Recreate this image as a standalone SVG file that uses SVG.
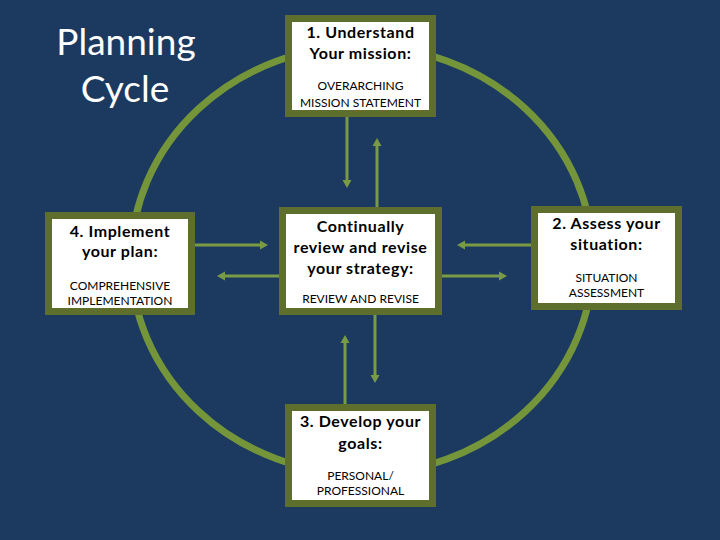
<svg xmlns="http://www.w3.org/2000/svg" width="720" height="540" viewBox="0 0 720 540">
<defs>
<style>
.box{fill:#ffffff;stroke:#5e6e2c;stroke-width:7}
.ring{fill:none;stroke:#74953a;stroke-width:7}
.arr{fill:none;stroke:#7a9b45;stroke-width:3}
.t{font-family:Lato,"Open Sans","Liberation Sans",sans-serif;font-weight:bold;font-size:16px;letter-spacing:0.6px;fill:#000;text-anchor:middle}
.s{font-family:Lato,"Open Sans","Liberation Sans",sans-serif;font-size:12px;fill:#000;text-anchor:middle}
.title{font-family:Lato,"Open Sans","Liberation Sans",sans-serif;font-size:37px;fill:#ffffff;text-anchor:middle}
</style>
<marker id="ah" viewBox="0 -5 8 10" markerWidth="8" markerHeight="10" refX="0" refY="0" orient="auto" markerUnits="userSpaceOnUse">
<path d="M0,-4.5 L8,0 L0,4.5 Z" fill="#7a9b45"/>
</marker>
</defs>
<rect width="720" height="540" fill="#1c3a60"/>
<g id="title">
<text class="title" x="126" y="55">Planning</text>
<text class="title" x="125" y="102">Cycle</text>
</g>
<g id="cycle-ring">
<ellipse class="ring" cx="362" cy="260" rx="231" ry="214"/>
</g>
<g id="connectors">
<path class="arr" d="M347,117 V180" marker-end="url(#ah)"/>
<path class="arr" d="M377,207 V146" marker-end="url(#ah)"/>
<path class="arr" d="M195,245 H260" marker-end="url(#ah)"/>
<path class="arr" d="M531,245 H465" marker-end="url(#ah)"/>
<path class="arr" d="M279,276 H225" marker-end="url(#ah)"/>
<path class="arr" d="M442,276 H499" marker-end="url(#ah)"/>
<path class="arr" d="M375,315 V375" marker-end="url(#ah)"/>
<path class="arr" d="M345,404 V343" marker-end="url(#ah)"/>
</g>
<g id="node-1">
<rect class="box" x="288.5" y="18.5" width="144" height="95"/>
<text class="t" x="360.5" y="37.5">1. Understand</text>
<text class="t" x="360.5" y="59">Your mission:</text>
<text class="s" x="360.5" y="90">OVERARCHING</text>
<text class="s" x="360.5" y="106.5">MISSION STATEMENT</text>
</g>
<g id="node-center">
<rect class="box" x="282.5" y="210.5" width="156" height="101"/>
<text class="t" x="360.5" y="231.5">Continually</text>
<text class="t" x="360.5" y="253">review and revise</text>
<text class="t" x="360.5" y="274">your strategy:</text>
<text class="s" x="360.5" y="302.5">REVIEW AND REVISE</text>
</g>
<g id="node-4">
<rect class="box" x="48.5" y="215.5" width="143" height="96"/>
<text class="t" x="120" y="236.5">4. Implement</text>
<text class="t" x="120" y="256.5">your plan:</text>
<text class="s" x="120" y="290">COMPREHENSIVE</text>
<text class="s" x="120" y="305">IMPLEMENTATION</text>
</g>
<g id="node-2">
<rect class="box" x="534.5" y="209.5" width="144" height="97"/>
<text class="t" x="606.5" y="229">2. Assess your</text>
<text class="t" x="606.5" y="250">situation:</text>
<text class="s" x="606.5" y="281.5">SITUATION</text>
<text class="s" x="606.5" y="296.5">ASSESSMENT</text>
</g>
<g id="node-3">
<rect class="box" x="288.5" y="407.5" width="144" height="96"/>
<text class="t" x="360.5" y="426.5">3. Develop your</text>
<text class="t" x="360.5" y="448.5">goals:</text>
<text class="s" x="360.5" y="479.5">PERSONAL/</text>
<text class="s" x="360.5" y="495">PROFESSIONAL</text>
</g>
</svg>
